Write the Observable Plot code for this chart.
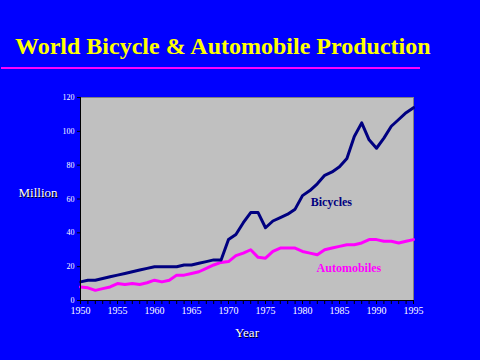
<!DOCTYPE html>
<html>
<head>
<meta charset="utf-8">
<script src="https://cdn.jsdelivr.net/npm/d3@7"></script>
<script src="https://cdn.jsdelivr.net/npm/@observablehq/plot@0.6"></script>
<style>
  html, body { margin: 0; padding: 0; background: #0000ff; }
  #wrap { position: relative; width: 480px; height: 360px; background: #0000ff; overflow: hidden; }
  #title { position: absolute; left: 15px; top: 33px; font-family: "Liberation Serif", serif; font-weight: bold; font-size: 24px; color: #ffff00; white-space: nowrap; }
  #rule { position: absolute; left: 1px; top: 67px; width: 419px; height: 2px; background: #ff00ff; }
  #chart { position: absolute; left: 0; top: 80px; }
</style>
</head>
<body>
<div id="wrap">
  <div id="title">World Bicycle &amp; Automobile Production</div>
  <div id="rule"></div>
  <div id="chart"></div>
</div>
<script>
const years = d3.range(1950, 1996);
const bicycles = [11, 12, 12, 13, 14, 15, 16, 17, 18, 19, 20, 20, 20, 20, 21, 21, 22, 23, 24, 24, 36, 39, 46, 52, 52, 43, 47, 49, 51, 54, 62, 65, 69, 74, 76, 79, 84, 97, 105, 95, 90, 96, 103, 107, 111, 114];
const automobiles = [8, 7.5, 6, 7, 8, 10, 9.5, 10, 9.5, 10.5, 12, 11, 12, 15, 15, 16, 17, 19, 21, 22.5, 23, 26.5, 28, 30, 25.5, 25, 29, 31, 31, 31, 29, 28, 27, 30, 31, 32, 33, 33, 34, 36, 36, 35, 35, 34, 35, 36];
const yTicks = [0, 20, 40, 60, 80, 100, 120];
const seriesLabels = [
  {name: "Bicycles", year: 1981.1, value: 58, color: "#000080"},
  {name: "Automobiles", year: 1981.9, value: 19, color: "#ff00ff"}
];

const bikeData = years.map((y, i) => ({year: y, value: bicycles[i]}));
const autoData = years.map((y, i) => ({year: y, value: automobiles[i]}));

const chart = Plot.plot({
  width: 480,
  height: 280,
  marginLeft: 80,
  marginRight: 67,
  marginTop: 17,
  marginBottom: 60,
  style: {background: "transparent", color: "white", fontFamily: "Liberation Serif, serif", fontSize: "10px"},
  x: {domain: [1950, 1995]},
  y: {domain: [0, 120]},
  marks: [
    Plot.frame({fill: "#c0c0c0", stroke: "#808080"}),
    Plot.line(autoData, {x: "year", y: "value", stroke: "#ff00ff", strokeWidth: 3}),
    Plot.line(bikeData, {x: "year", y: "value", stroke: "#000080", strokeWidth: 3}),
    Plot.ruleX([1950], {stroke: "black"}),
    Plot.ruleY([0], {stroke: "black"}),
    Plot.axisX({ticks: years, tickSize: 4, tickPadding: 2, stroke: "black", fill: "white", fontSize: 10,
      tickFormat: d => d % 5 === 0 ? String(d) : "", label: null}),
    Plot.axisY({ticks: yTicks, tickSize: 3, tickPadding: 3, stroke: "black", fill: "white", fontSize: 8, label: null}),
    // axis titles: white with a black drop shadow
    Plot.text(["Year"], {frameAnchor: "bottom", dy: 37, dx: 1, fill: "black", fontSize: 13}),
    Plot.text(["Year"], {frameAnchor: "bottom", dy: 36, fill: "white", fontSize: 13}),
    Plot.text(["Million"], {frameAnchor: "left", dx: -61, dy: -5, textAnchor: "start", fill: "black", fontSize: 13}),
    Plot.text(["Million"], {frameAnchor: "left", dx: -62, dy: -6, textAnchor: "start", fill: "white", fontSize: 13}),
    Plot.text(seriesLabels, {x: "year", y: "value", text: "name", fill: "color", textAnchor: "start", fontWeight: "bold", fontSize: 12})
  ]
});
document.getElementById("chart").appendChild(chart);
</script>
</body>
</html>
